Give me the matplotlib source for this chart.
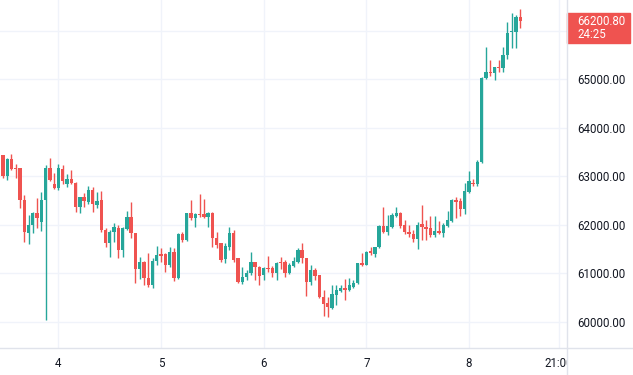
import matplotlib
matplotlib.use("Agg")
import matplotlib.pyplot as plt
import matplotlib.dates as mdates
from matplotlib.patches import Rectangle
import numpy as np
import pandas as pd

# hourly candles
opens = [63439, 63006, 63356, 63171, 63171, 62511, 61831, 61996, 62243, 62057,
         62511, 63171, 62841, 62758, 63150, 62841, 62944, 62862, 62367, 62573,
         62470, 62717, 62408, 62511, 61892, 61624, 61851, 61934, 61480, 61913,
         62160, 61831, 61088, 61233, 60903, 60758, 61253, 61398, 61398, 61171,
         61439, 60903, 61810, 61686, 62243, 62140, 62222, 62222, 62160, 62243,
         61728, 61624, 61294, 61542, 61831, 61315, 60820, 60923, 61006, 61233,
         61129, 60965, 61109, 61109, 61006, 61233, 61233, 61006, 61150, 61233,
         61480, 61315, 60820, 61068, 60965, 60511, 60387, 60285, 60553, 60635,
         60697, 60655, 60717, 60800, 61212, 61171, 61459, 61398, 61542, 61975,
         61851, 61954, 62181, 62243, 61996, 61851, 61810, 61707, 62016, 61954,
         61934, 61789, 61872, 61831, 61975, 62078, 62511, 62490, 62325, 62676,
         62862, 62841, 63295, 65027, 65150, 65130, 65253, 65233, 65501, 65975,
         65975, 66284]
highs = [63439, 63377, 63460, 63253, 63171, 62614, 62202, 62264, 62552, 62676,
         63233, 63377, 63068, 63253, 63233, 63047, 63130, 62882, 62573, 62655,
         62800, 62779, 62676, 62697, 61934, 61892, 62037, 61996, 61954, 62284,
         62470, 61831, 61336, 61253, 61418, 61315, 61563, 61521, 61418, 61542,
         61521, 61831, 61851, 62243, 62511, 62243, 62635, 62532, 62264, 62264,
         61851, 61624, 61624, 61954, 61892, 61315, 61129, 61068, 61439, 61233,
         61150, 61129, 61356, 61150, 61233, 61336, 61274, 61212, 61336, 61521,
         61624, 61315, 61171, 61109, 60965, 60655, 60511, 60758, 60758, 60758,
         60882, 60903, 60861, 61212, 61418, 61459, 61542, 61542, 61996, 62367,
         62202, 62243, 62367, 62264, 62099, 61996, 61892, 62057, 62408, 62099,
         62181, 62181, 62078, 62037, 62284, 62532, 62573, 62552, 62862, 63109,
         62944, 63336, 65047, 65666, 65398, 65253, 65398, 65666, 66181, 66367,
         66326, 66449]
lows = [62965, 62924, 63130, 62965, 62346, 61645, 61604, 61831, 61934, 61872,
        60037, 62903, 62738, 62717, 62841, 62779, 62841, 62264, 62243, 62367,
        62428, 62264, 62346, 61851, 61542, 61336, 61645, 61315, 61336, 61892,
        61728, 60800, 60882, 60758, 60717, 60697, 61171, 61233, 61026, 61129,
        60841, 60882, 61645, 61666, 62099, 61954, 62160, 62140, 61954, 61542,
        61521, 61233, 61212, 61480, 61233, 60800, 60779, 60861, 60965, 60861,
        60758, 60861, 61026, 60923, 60861, 61088, 60923, 60985, 61129, 61212,
        61212, 60532, 60758, 60861, 60490, 60119, 60099, 60264, 60346, 60614,
        60449, 60635, 60697, 60779, 61150, 61171, 61377, 61336, 61521, 61831,
        61789, 61934, 62160, 61934, 61810, 61748, 61645, 61501, 61686, 61686,
        61748, 61748, 61810, 61748, 61954, 62057, 62140, 62181, 62222, 62655,
        62800, 62800, 63274, 65006, 65068, 64985, 65150, 65150, 65418, 65645,
        65645, 66058]
closes = [63006, 63356, 63150, 63150, 62511, 61851, 61996, 62243, 62140, 62511,
          63171, 62924, 62758, 63171, 62903, 62944, 62862, 62367, 62573, 62490,
          62717, 62428, 62490, 61892, 61624, 61851, 61954, 61480, 61934, 62160,
          61831, 61088, 61233, 60903, 60758, 61253, 61377, 61356, 61171, 61439,
          60903, 61810, 61686, 62243, 62140, 62222, 62202, 62160, 62243, 61728,
          61583, 61274, 61563, 61831, 61274, 60820, 60923, 61006, 61233, 61129,
          60944, 61109, 61088, 61006, 61212, 61212, 61006, 61171, 61253, 61480,
          61315, 60820, 61068, 60944, 60511, 60367, 60305, 60573, 60655, 60697,
          60655, 60758, 60800, 61212, 61171, 61439, 61418, 61542, 61975, 61851,
          61975, 62202, 62243, 61975, 61851, 61810, 61707, 61996, 61954, 61913,
          61789, 61872, 61831, 61996, 62099, 62511, 62470, 62325, 62697, 62903,
          62841, 63295, 65027, 65150, 65130, 65253, 65233, 65501, 65955, 65996,
          66284, 66200.8]

first_bar = "2024-03-03 11:00"
price_ticks = [60000, 61000, 62000, 63000, 64000, 65000, 66000]
time_ticks = ["2024-03-04 00:00", "2024-03-05 00:00", "2024-03-06 00:00",
              "2024-03-07 00:00", "2024-03-08 00:00", "2024-03-08 21:00"]
time_labels = ["4", "5", "6", "7", "8", "21:00"]
countdown = "24:25"

UP = "#26a69a"
DOWN = "#ef5350"
GRID = "#f0f3fa"
EDGE = "#e0e3eb"
TXT = "#131722"

o = np.array(opens, float)
h = np.array(highs, float)
l = np.array(lows, float)
c = np.array(closes, float)
t = pd.date_range(first_bar, periods=len(o), freq="h")
x = mdates.date2num(t)
hour = 1 / 24
cols = np.where(c >= o, UP, DOWN)

W, H = 633, 375
fig = plt.figure(figsize=(W / 100, H / 100), dpi=100)
plot_w, axis_h = 567, 27
ax = fig.add_axes([0, axis_h / H, plot_w / W, 1 - axis_h / H])
tax = fig.add_axes([0, 0, plot_w / W, axis_h / H])

ax.set_xlim(x[0] - 0.68 * hour, x[0] + 131.95 * hour)
ax.set_ylim(59459, 66635)
tax.set_xlim(ax.get_xlim())
tax.set_ylim(0, 1)

for s in ax.spines.values():
    s.set_visible(False)
tax.axis("off")

tick_x = mdates.date2num(pd.to_datetime(time_ticks, format="%Y-%m-%d %H:%M"))
ax.set_xticks(tick_x)
ax.set_yticks(price_ticks)
ax.set_yticklabels([f"{p:.2f}" if p < 66000 else "" for p in price_ticks])
ax.tick_params(axis="x", length=0, labelbottom=False)
ax.yaxis.tick_right()
ax.tick_params(axis="y", length=0, pad=7.2, labelsize=8.3, labelcolor=TXT)
for lbl in ax.get_yticklabels():
    lbl.set_family("Roboto")
ax.grid(True, color=GRID, linewidth=1)
ax.set_axisbelow(True)

ax.vlines(x, l, h, colors=cols, linewidth=1)
body = np.maximum(np.abs(c - o), 22)
ax.bar(x, body, bottom=np.minimum(o, c), width=0.78 * hour, color=cols,
       linewidth=0)

for tx, lab in zip(tick_x, time_labels):
    tax.text(tx, 0.44, lab, ha="center", va="center", fontsize=8.3,
             family="Roboto", color=TXT, clip_on=True)

# last price tag
last = c[-1]
px = (ax.get_ylim()[1] - ax.get_ylim()[0]) / (H - axis_h)
ax.add_patch(Rectangle((1.0, last - 21.5 * px), 63 / plot_w, 30 * px,
                       transform=ax.get_yaxis_transform(), color=DOWN,
                       clip_on=False, zorder=5))
ax.text(1 + 10 / plot_w, last, f"{last:.2f}", transform=ax.get_yaxis_transform(),
        ha="left", va="center", color="white", fontsize=8.3, family="Roboto",
        zorder=6)
ax.text(1 + 10 / plot_w, last - 13 * px, countdown,
        transform=ax.get_yaxis_transform(), ha="left", va="center",
        color="white", fontsize=8.3, family="Roboto", zorder=6)

fig.add_artist(plt.Line2D([plot_w / W, plot_w / W], [0, 1], color=EDGE,
                          linewidth=1, transform=fig.transFigure))
fig.add_artist(plt.Line2D([0, 1], [axis_h / H, axis_h / H], color=EDGE,
                          linewidth=1, transform=fig.transFigure))

fig.savefig("out.png", dpi=100)
